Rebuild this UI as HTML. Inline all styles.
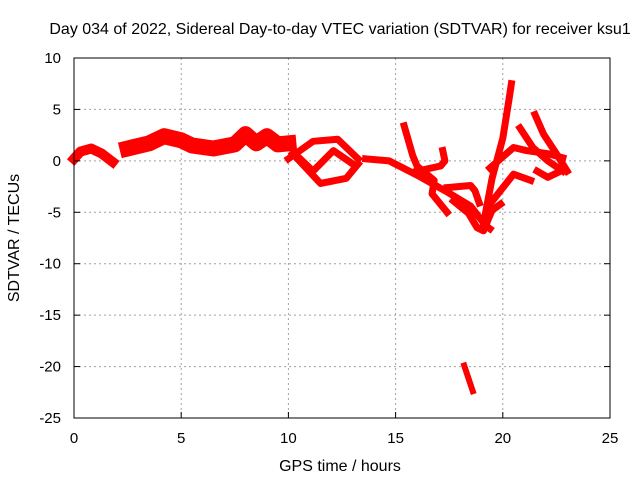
<!DOCTYPE html>
<html><head><meta charset="utf-8"><style>
body{margin:0;background:#fff}
svg text{font-family:"Liberation Sans",sans-serif;font-size:15px;fill:#000}
svg text.big{font-size:16px}
</style></head><body>
<svg width="640" height="480" xmlns="http://www.w3.org/2000/svg">
<rect width="640" height="480" fill="#fff"/>
<g id="grid"></g>
<g id="series"></g>
<rect x="74" y="58" width="536" height="360" fill="none" stroke="#000" stroke-width="1"/>
<g id="ticks"></g>
<text class="big" x="340" y="34" text-anchor="middle">Day 034 of 2022, Sidereal Day-to-day VTEC variation (SDTVAR) for receiver ksu1</text>
<text class="big" x="340" y="471" text-anchor="middle">GPS time / hours</text>
<text class="big" transform="translate(19,238) rotate(-90)" text-anchor="middle">SDTVAR / TECUs</text>
</svg>
<script>
const xTicks=[0,5,10,15,20,25];
const yTicks=[10,5,0,-5,-10,-15,-20,-25];
const track1=[[0,0.2],[0.3,0.9],[0.8,1.2],[1.3,0.7],[1.8,-0.1]];
const track2=[[2.5,1.2],[3.5,1.7],[4.2,2.4],[5,2.0],[5.5,1.5],[6.5,1.2],[7.5,1.6],[8,2.6],[8.5,1.7],[9,2.4],[9.5,1.6],[10,1.7]];
const track3=[[10,0.2],[11.15,1.9],[12.3,2.1],[13.25,0.2]];
const track4=[[10.2,0.7],[11.5,-2.2],[12.7,-1.7],[13.25,-0.3]];
const track5=[[10.5,0.3],[11.15,-1.0],[12.1,1.0],[13.0,-0.3]];
const track6=[[13.6,0.2],[14.7,0],[16.1,-1.5],[17.3,-2.9],[18.5,-4.4],[19.2,-6.3],[19.4,-6.6]];
const track7=[[15.4,3.4],[15.8,0.5],[16,-0.5],[16.8,-1.9],[16.7,-3.2],[17.4,-5.0]];
const track8=[[16,-1],[17.1,-0.5],[17.3,0],[17.2,1.0]];
const track9=[[17.4,-2.6],[18.5,-2.4],[18.7,-2.9],[18.9,-4.1]];
const track10=[[17.7,-3.9],[18.4,-5.1],[18.8,-6.5],[19.1,-6.8],[19.5,-4.8],[19.9,-4.2]];
const track11=[[19.1,-6.1],[19.5,-1.7],[20.0,2.2],[20.3,6.1],[20.4,7.5]];
const track12=[[19.4,-0.7],[20.5,1.3],[21.1,1.0],[22.1,0.7],[22.8,0.3]];
const track13=[[19.4,-4.2],[20.5,-1.3],[21.3,-1.9]];
const track14=[[20.8,3.2],[21.4,1.3],[22.1,0],[22.8,-1.0]];
const track15=[[21.5,4.5],[21.9,2.6],[22.5,0.7],[23.0,-1.0]];
const track16=[[21.6,-1],[22.1,-1.6],[22.7,-1.0]];
const track17=[[18.2,-19.9],[18.6,-22.4]];
const tracks=[track1,track2,track3,track4,track5,track6,track7,track8,track9,track10,track11,track12,track13,track14,track15,track16,track17];
const widths=[10,16,7,7,7,7,7,7,7,7,7,7,7,7,7,7,6];
const NS='http://www.w3.org/2000/svg';
const X=h=>74+h*(536/25);
const Y=v=>58+(10-v)*(360/35);
const grid=document.getElementById('grid'),ticks=document.getElementById('ticks'),ser=document.getElementById('series');
function mk(tag,a){const e=document.createElementNS(NS,tag);for(const k in a)e.setAttribute(k,a[k]);return e;}
xTicks.forEach(t=>{
 if(t>0&&t<25){const g=mk('line',{x1:X(t),x2:X(t),y1:58,y2:418,stroke:'#a0a0a0','stroke-dasharray':'2,3'});
 
 grid.appendChild(g);}
 const l=mk('line',{x1:X(t),x2:X(t),y1:418,y2:412,stroke:'#000'});
 
 ticks.appendChild(l);
 const tx=mk('text',{x:X(t),y:443,'text-anchor':'middle'});tx.textContent=t;
 
 ticks.appendChild(tx);
});
yTicks.forEach(t=>{
 if(t<10&&t>-25){const g=mk('line',{x1:74,x2:610,y1:Y(t),y2:Y(t),stroke:'#a0a0a0','stroke-dasharray':'2,3'});
 
 grid.appendChild(g);}
 const l=mk('line',{x1:74,x2:80,y1:Y(t),y2:Y(t),stroke:'#000'});
 
 ticks.appendChild(l);
 const l2=mk('line',{x1:604,x2:610,y1:Y(t),y2:Y(t),stroke:'#000'});
 
 ticks.appendChild(l2);
 const tx=mk('text',{x:61,y:Y(t)+5,'text-anchor':'end'});tx.textContent=t;
 
 ticks.appendChild(tx);
});
tracks.forEach((tr,i)=>{
 const p=mk('polyline',{points:tr.map(d=>X(d[0])+','+Y(d[1])).join(' '),fill:'none',stroke:'#ff0000','stroke-width':widths[i],'stroke-linejoin':'round','stroke-linecap':'square'});
 
 
 ser.appendChild(p);
});
</script>
</body></html>
